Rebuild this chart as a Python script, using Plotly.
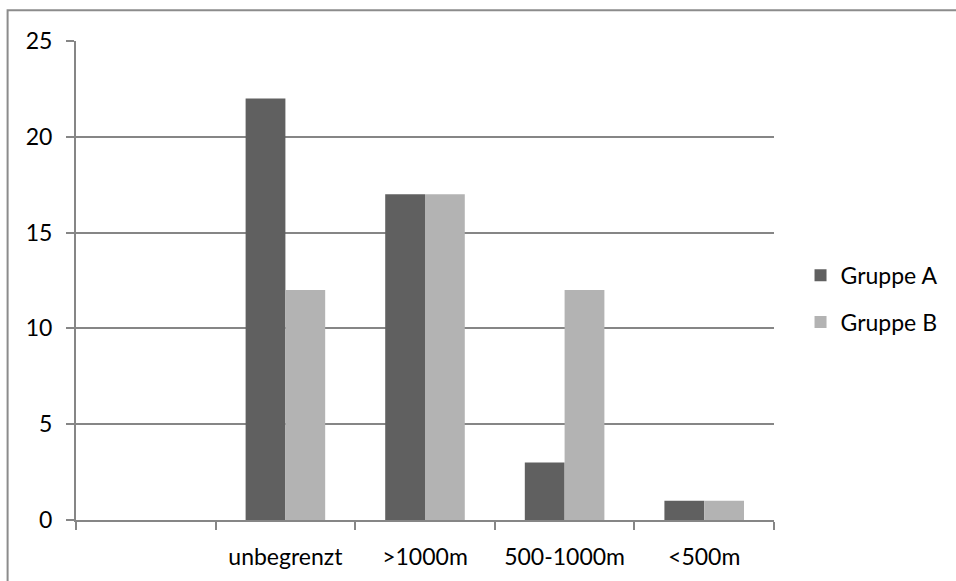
import plotly.graph_objects as go

categories = [" ", "unbegrenzt", ">1000m", "500-1000m", "<500m"]
gruppe_a = [None, 22, 17, 3, 1]
gruppe_b = [None, 12, 17, 12, 1]
y_ticks = [0, 5, 10, 15, 20, 25]

FONT = "Lato, Open Sans, sans-serif"
GRID = "#868686"

fig = go.Figure()
fig.add_trace(go.Bar(x=categories, y=gruppe_a, name="Gruppe A",
                     marker=dict(color="#606060", line=dict(width=0)),
                     legendgroup="a"))
fig.add_trace(go.Bar(x=categories, y=gruppe_b, name="Gruppe B",
                     marker=dict(color="#b3b3b3", line=dict(width=0)),
                     legendgroup="b"))

fig.update_layout(
    width=956, height=581,
    margin=dict(l=76, r=182, t=41, b=61),
    paper_bgcolor="white", plot_bgcolor="white",
    barmode="group", bargap=0.43, bargroupgap=0,
    font=dict(family=FONT, size=23, color="#000000"),
    legend=dict(x=1.038, y=0.462, xanchor="left", yanchor="middle",
                tracegroupgap=14, itemwidth=30,
                font=dict(family=FONT, size=23)),
    showlegend=True,
    xaxis=dict(type="category", categoryorder="array", categoryarray=categories,
               range=[-0.5, 4.5], showgrid=False, showline=True,
               linecolor=GRID, linewidth=2, ticks="outside", tickson="boundaries",
               ticklen=8, tickwidth=2, tickcolor=GRID, ticklabelstandoff=15,
               zeroline=False),
    yaxis=dict(range=[0, 25], tickvals=y_ticks, showgrid=True, gridcolor=GRID,
               gridwidth=2, showline=True, linecolor=GRID, linewidth=2,
               ticks="outside", ticklen=8, tickwidth=2, tickcolor=GRID,
               ticklabelstandoff=9, zeroline=False),
    shapes=[dict(type="rect", xref="paper", yref="paper",
                 x0=-0.098, x1=1.5, y0=-0.3, y1=1.064,
                 line=dict(color="#8c8c8c", width=2), fillcolor="rgba(0,0,0,0)",
                 layer="below")],
)

fig.write_html("out.html")
